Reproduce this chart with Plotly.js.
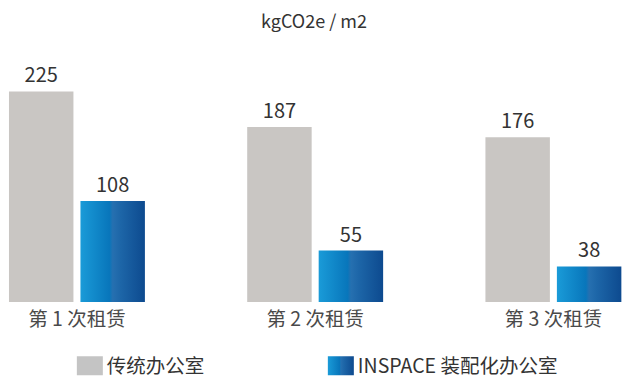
<!DOCTYPE html>
<html>
<head>
<meta charset="utf-8">
<script src="https://cdn.plot.ly/plotly-3.0.1.min.js"></script>
<style>
html,body{margin:0;padding:0;background:#fff;}
#chart{width:622px;height:378px;}
</style>
</head>
<body>
<div id="chart"></div>
<script>
const categories = ["第 1 次租赁", "第 2 次租赁", "第 3 次租赁"];
const seriesNames = ["传统办公室", "INSPACE 装配化办公室"];
const traditional = [225, 187, 176];
const inspace = [108, 55, 38];
const unitTitle = "kgCO2e / m2";

const FONT = '"Noto Sans CJK SC", "Noto Sans", sans-serif';

const traces = [
  {
    type: 'bar', name: seriesNames[0], x: categories, y: traditional,
    marker: {color: '#c9c6c3'},
    text: traditional.map(String), textposition: 'outside',
    textfont: {family: FONT, size: 20, color: '#333333'},
    cliponaxis: false
  },
  {
    type: 'bar', name: seriesNames[1], x: categories, y: inspace,
    marker: {color: '#0b6fb5'},
    text: inspace.map(String), textposition: 'outside',
    textfont: {family: FONT, size: 20, color: '#333333'},
    cliponaxis: false
  }
];

const layout = {
  width: 622, height: 378,
  margin: {l: 0, r: 0, t: 68, b: 76, pad: 0, autoexpand: false},
  paper_bgcolor: '#ffffff', plot_bgcolor: '#ffffff',
  font: {family: FONT, color: '#333333', size: 19},
  title: {text: unitTitle, x: 314/622, xref: 'paper', xanchor: 'center', y: 1 - 22/378, yref: 'container', yanchor: 'middle',
          font: {family: FONT, size: 18, color: '#333333'}},
  barmode: 'group', bargap: 0.40, bargroupgap: 0.098,
  showlegend: true,
  legend: {orientation: 'h', x: 0.511, xanchor: 'center', y: -(366 - 302) / 234, yref: 'paper', yanchor: 'middle',
           font: {family: FONT, size: 19.5, color: '#333333'}, entrywidth: 206, entrywidthmode: 'pixels',
           traceorder: 'normal', bgcolor: 'rgba(0,0,0,0)'},
  xaxis: {type: 'category', range: [-0.323, 2.288], autorange: false, showgrid: false, zeroline: false, showline: false,
          automargin: false, ticks: '', ticklabelstandoff: 3, tickfont: {family: FONT, size: 19.5, color: '#4a4a4a'}, fixedrange: true},
  yaxis: {range: [0, 250], autorange: false, visible: false, fixedrange: true}
};

function applyGradient(gd) {
  const svg = gd.querySelector('svg.main-svg');
  if (!svg) return;
  let defs = svg.querySelector('defs');
  if (!defs) { defs = document.createElementNS('http://www.w3.org/2000/svg', 'defs'); svg.insertBefore(defs, svg.firstChild); }
  if (!svg.querySelector('#blueGrad')) {
    const ns = 'http://www.w3.org/2000/svg';
    const g = document.createElementNS(ns, 'linearGradient');
    g.setAttribute('id', 'blueGrad');
    g.setAttribute('x1', '0'); g.setAttribute('y1', '0'); g.setAttribute('x2', '1'); g.setAttribute('y2', '0');
    const stops = [[0, '#1a9bd8'], [0.45, '#0876bb'], [0.5, '#2670b0'], [0.62, '#1d66a8'], [1, '#0d4a8f']];
    stops.forEach(s => {
      const st = document.createElementNS(ns, 'stop');
      st.setAttribute('offset', s[0]); st.setAttribute('stop-color', s[1]);
      g.appendChild(st);
    });
    defs.appendChild(g);
  }
  const barTraces = gd.querySelectorAll('.barlayer .trace.bars');
  if (barTraces[1]) barTraces[1].querySelectorAll('.point path').forEach(p => { p.style.fill = 'url(#blueGrad)'; });
  const legItems = gd.querySelectorAll('.legend .traces');
  legItems.forEach((it, i) => {
    const p = it.querySelector('.legendpoints path');
    if (p) {
      p.setAttribute('d', 'M16,9.5H-10V-9.5H16Z');
      p.style.strokeWidth = '0px';
      p.style.fill = i === 1 ? 'url(#blueGrad)' : '#c4c4c4';
    }
  });
}

Plotly.newPlot('chart', traces, layout, {displayModeBar: false, staticPlot: true}).then(applyGradient);
</script>
</body>
</html>
